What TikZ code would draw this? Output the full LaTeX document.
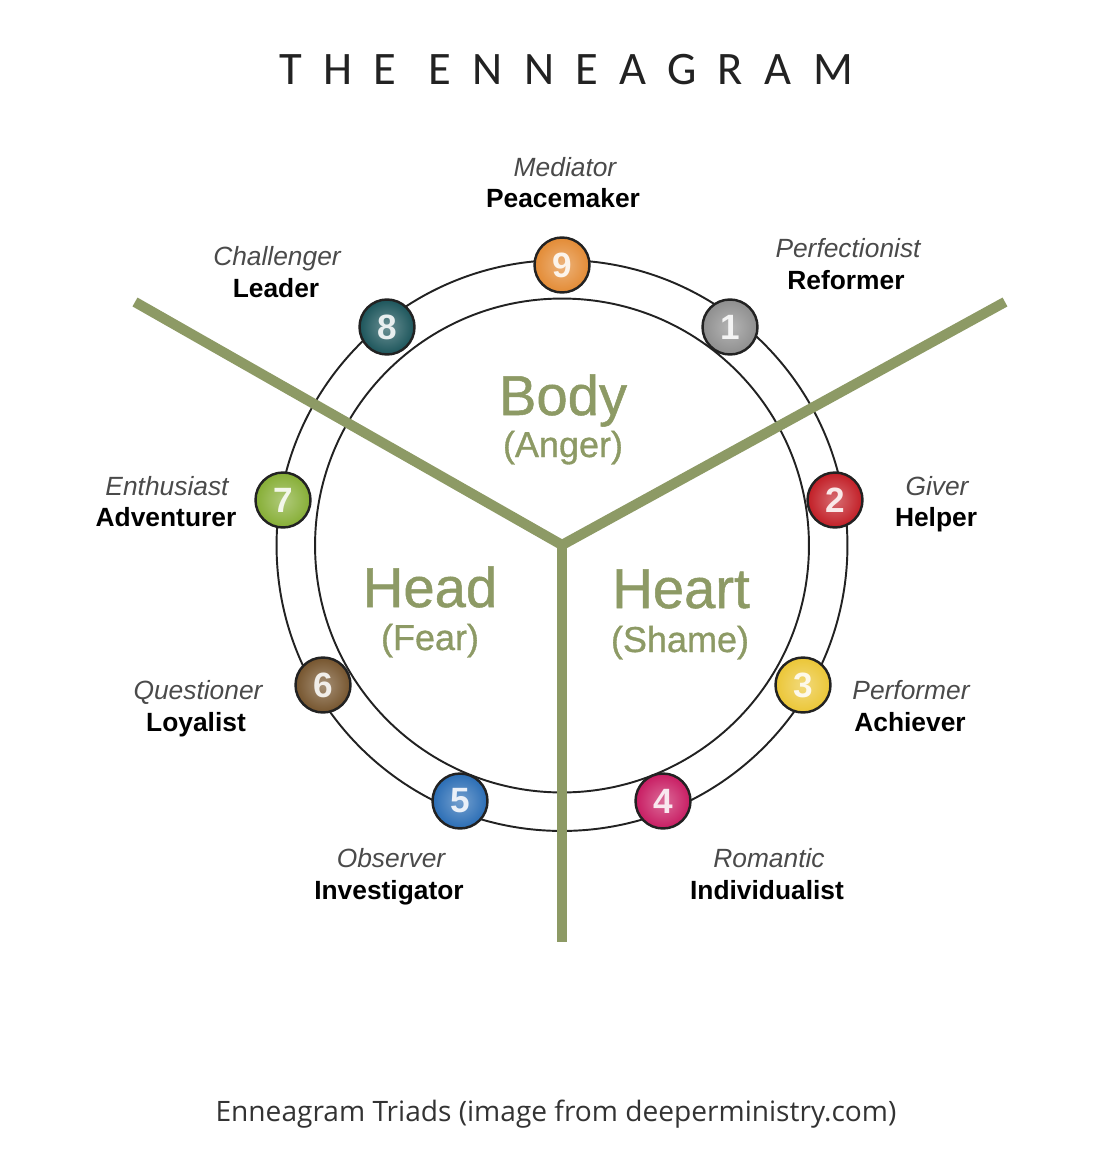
\documentclass[tikz,border=0pt]{standalone}
\usepackage{fontspec}
\usepackage{xcolor}
\usetikzlibrary{positioning,calc}
\setmainfont{Liberation Sans}
\newfontfamily\titlefont[LetterSpace=46]{Carlito}
\newfontfamily\triadfont[FakeBold=0.9]{Liberation Sans}
\newfontfamily\capfont{Open Sans}
\definecolor{sage}{HTML}{8D9A65}
\definecolor{bk90}{HTML}{222222}
\definecolor{bk70}{HTML}{4A4A4A}
\definecolor{capgray}{HTML}{333333}
\definecolor{t9}{HTML}{E38B35}
\definecolor{t1}{HTML}{8E8E8E}
\definecolor{t2}{HTML}{C21E26}
\definecolor{t3}{HTML}{EBC636}
\definecolor{t4}{HTML}{C81C62}
\definecolor{t5}{HTML}{2A6DB5}
\definecolor{t6}{HTML}{76552E}
\definecolor{t7}{HTML}{86AE35}
\definecolor{t8}{HTML}{1C555B}
\tikzset{
  typebadge/.style={
    circle, draw=bk90, line width=1.4pt,
    minimum size=1.1cm, inner sep=0pt,
    inner color=#1!65!white, outer color=#1,
    font=\fontsize{20}{20}\selectfont\bfseries, text=white!90!#1
  },
  typebadge/.default=t1,
  rolelabel/.style={
    font=\fontsize{15}{18}\selectfont\itshape, text=bk70,
    inner sep=0pt, anchor=base
  },
  namelabel/.style={
    font=\fontsize{15}{18}\selectfont\bfseries, text=black,
    inner sep=0pt, anchor=base
  },
  centrelabel/.style={
    font=\triadfont\fontsize{32}{34}\selectfont, text=sage,
    inner sep=0pt, anchor=base
  },
  feellabel/.style={
    font=\triadfont\fontsize{20.5}{22}\selectfont, text=sage,
    inner sep=0pt, anchor=base
  },
  triadline/.style={line width=5.8pt, draw=sage},
  ringline/.style={line width=1.1pt, draw=bk90},
}

\begin{document}
\begin{tikzpicture}[x=0.02cm, y=-0.02cm]
  \useasboundingbox (0,0) rectangle (1094,1152);

  % Title
  \node[font=\titlefont\fontsize{26.5}{28}\selectfont, text=bk90, inner sep=0pt, anchor=base]
    (title) at (566,85) {THE ENNEAGRAM};

  % Rings
  \coordinate (ctr) at (562,545.5);
  \draw[ringline] (ctr) circle[radius=5.71cm];
  \draw[ringline] (ctr) circle[radius=4.94cm];

  % Triad lines
  \coordinate (mid) at (562,545);
  \coordinate (armL) at (135,302);
  \coordinate (armR) at (1005,302);
  \coordinate (armD) at (562,942);
  \draw[triadline] (armL) -- (mid) -- (armR);
  \draw[triadline] (mid) -- (armD);

  % Centres
  \node[centrelabel] (body) at (563,415) {Body};
  \node[feellabel] (anger) at (563,457) {(Anger)};
  \node[centrelabel] (head) at (430,607) {Head};
  \node[feellabel] (fear) at (430,650) {(Fear)};
  \node[centrelabel] (heart) at (681,608) {Heart};
  \node[feellabel] (shame) at (680,652) {(Shame)};

  % Type badges
  \node[typebadge=t9] (b9) at (562,265) {9};
  \node[typebadge=t1] (b1) at (730,327) {1};
  \node[typebadge=t2] (b2) at (835,500) {2};
  \node[typebadge=t3] (b3) at (803,685) {3};
  \node[typebadge=t4] (b4) at (663,801) {4};
  \node[typebadge=t5] (b5) at (460,801) {5};
  \node[typebadge=t6] (b6) at (323,685) {6};
  \node[typebadge=t7] (b7) at (283,500) {7};
  \node[typebadge=t8] (b8) at (387,327) {8};

  % Type names
  \node[rolelabel] (r9) at (565,177) {Mediator};
  \node[namelabel] (n9) at (563,208) {Peacemaker};
  \node[rolelabel] (r1) at (848,257) {Perfectionist};
  \node[namelabel] (n1) at (846,289) {Reformer};
  \node[rolelabel] (r2) at (937,495) {Giver};
  \node[namelabel] (n2) at (936,526) {Helper};
  \node[rolelabel] (r3) at (911,699) {Performer};
  \node[namelabel] (n3) at (910,731) {Achiever};
  \node[rolelabel] (r4) at (769,867) {Romantic};
  \node[namelabel] (n4) at (767,899) {Individualist};
  \node[rolelabel] (r5) at (391,867) {Observer};
  \node[namelabel] (n5) at (389,899) {Investigator};
  \node[rolelabel] (r6) at (198,699) {Questioner};
  \node[namelabel] (n6) at (196,731) {Loyalist};
  \node[rolelabel] (r7) at (167,495) {Enthusiast};
  \node[namelabel] (n7) at (166,526) {Adventurer};
  \node[rolelabel] (r8) at (277,265) {Challenger};
  \node[namelabel] (n8) at (276,297) {Leader};

  % Caption
  \node[font=\capfont\fontsize{16}{18}\selectfont, text=capgray, inner sep=0pt, anchor=base]
    (caption) at (556,1121) {Enneagram Triads (image from deeperministry.com)};
\end{tikzpicture}
\end{document}
